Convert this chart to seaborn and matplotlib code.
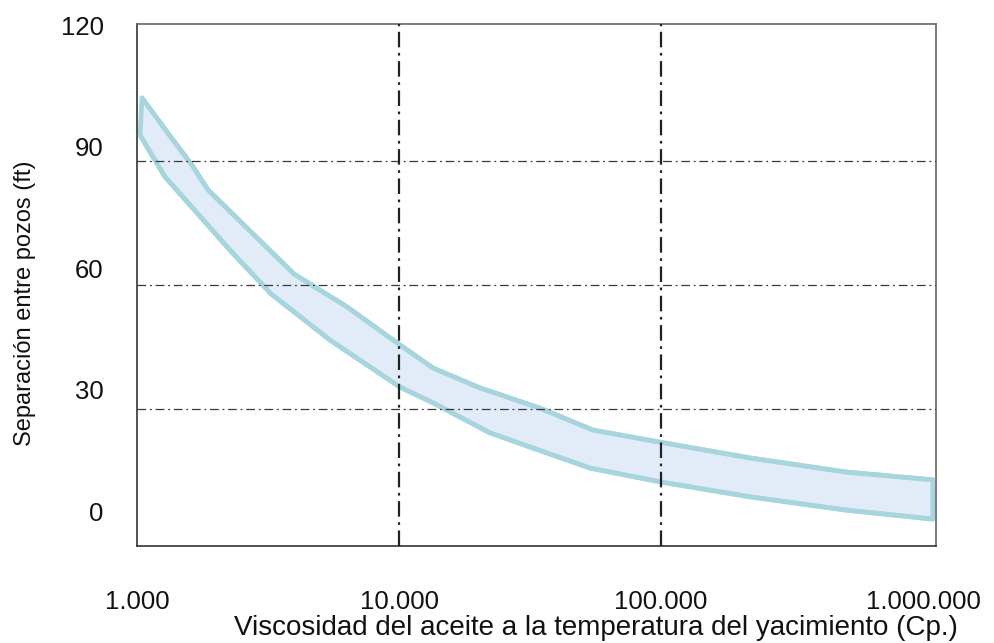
import numpy as np
import pandas as pd
import matplotlib
matplotlib.use("Agg")
import matplotlib.pyplot as plt
import seaborn as sns

# ---- data ----
upper_x = [1045, 1302, 1622, 1866, 3980, 6335, 10090, 13490,
           20390, 34510, 54970, 99100, 218800, 512900, 1091000]
upper_y = [102.0, 93.6, 85.4, 79.3, 58.5, 50.4, 41.0, 35.3,
           30.4, 25.4, 20.0, 17.0, 13.1, 9.6, 7.7]
lower_x = [1027, 1279, 1695, 2265, 3250, 5456, 10090, 13490, 22240, 31630,
           53580, 99100, 218800, 512900, 1091000]
lower_y = [92.8, 82.5, 73.6, 64.4, 53.6, 42.2, 30.6, 26.7, 19.3, 15.8,
           10.6, 7.2, 3.5, 0.2, -2.0]

x_ticks = [1000, 10000, 100000, 1000000]
x_tick_labels = ["1.000", "10.000", "100.000", "1.000.000"]
y_ticks = [0, 30, 60, 90, 120]
y_tick_labels = ["0", "30", "60", "90", "120"]
h_grid_y = [25.2, 55.8, 86.4]
v_grid_x = [10000, 100000]

x_label = "Viscosidad del aceite a la temperatura del yacimiento (Cp.)"
y_label = "Separación entre pozos (ft)"

# ---- style ----
sns.set_style("white")
plt.rcParams["font.family"] = ["Liberation Sans", "DejaVu Sans"]

fig = plt.figure(figsize=(9.95, 6.43), dpi=100)
ax = fig.add_axes([137 / 995, 97 / 643, 799 / 995, 522 / 643])

edge_col = "#a6d5de"
face_col = "#e2ecf8"

# band fill
poly_x = list(upper_x) + list(lower_x[::-1])
poly_y = list(upper_y) + list(lower_y[::-1])
ax.fill(poly_x, poly_y, facecolor=face_col, edgecolor=edge_col, linewidth=3.4,
        joinstyle="round", zorder=2)

df = pd.concat([
    pd.DataFrame({"x": upper_x, "y": upper_y, "edge": "upper"}),
    pd.DataFrame({"x": lower_x, "y": lower_y, "edge": "lower"}),
])
sns.lineplot(data=df, x="x", y="y", units="edge", estimator=None, sort=False,
             color=edge_col, linewidth=3.4, ax=ax, zorder=3, legend=False)

ax.set_xscale("log")
ax.set_xlim(1000, 10 ** (3 + 799 / 262))
ax.set_ylim(-8.64, 120.25)

# gridlines
for gy in h_grid_y:
    ax.axhline(gy, color="#3a3a3a", linewidth=0.9, dashes=(7, 3, 1.5, 3), zorder=4)
for gx in v_grid_x:
    ax.axvline(gx, color="#222222", linewidth=1.6, dashes=(7, 2.5, 1.2, 2.5), zorder=4)

ax.set_xticks(x_ticks)
ax.set_xticklabels(x_tick_labels)
ax.xaxis.set_minor_locator(matplotlib.ticker.NullLocator())
ax.set_yticks(y_ticks)
ax.set_yticklabels(y_tick_labels)
ax.tick_params(axis="x", length=0, pad=32, labelsize=18.5, colors="#111111")
ax.tick_params(axis="y", length=0, pad=24, labelsize=18.5, colors="#111111")

ax.set_xlabel(x_label, fontsize=20, color="#111111")
ax.set_ylabel(y_label, fontsize=17, color="#111111")
ax.xaxis.set_label_coords(0.575, -0.133)
ax.yaxis.set_label_coords(-0.127, 0.4655)

for side in ["left", "bottom"]:
    ax.spines[side].set_color("#333333")
    ax.spines[side].set_linewidth(1.2)
for side in ["top", "right"]:
    ax.spines[side].set_color("#666666")
    ax.spines[side].set_linewidth(1.2)

fig.savefig("out.png", dpi=100)
